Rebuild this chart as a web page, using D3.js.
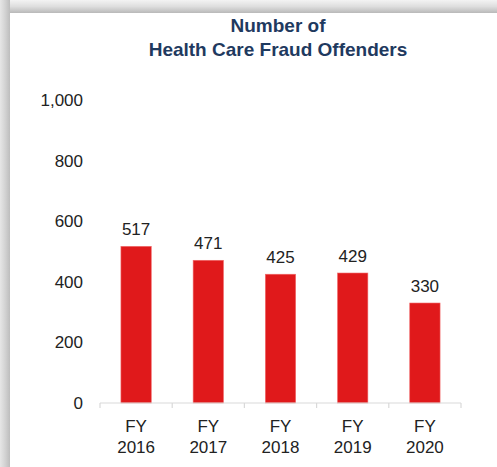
<!DOCTYPE html>
<html>
<head>
<meta charset="utf-8">
<script src="https://cdn.jsdelivr.net/npm/d3@7"></script>
<style>
  body { margin: 0; background: #fff; }
  svg text { font-family: "Century Gothic", "Liberation Sans", Arial, sans-serif; }
</style>
</head>
<body>
<div id="chart"></div>
<script>
// data
var years = ["2016", "2017", "2018", "2019", "2020"];
var offenders = [517, 471, 425, 429, 330];
var yTicks = [0, 200, 400, 600, 800, 1000];
var titleLines = ["Number of", "Health Care Fraud Offenders"];

var width = 497, height = 467;
var margin = {top: 100, right: 36, bottom: 64, left: 100};

var svg = d3.select("#chart").append("svg")
    .attr("width", width)
    .attr("height", height);

// soft frame shadow along top and left
var defs = svg.append("defs");
var gTop = defs.append("linearGradient").attr("id", "shTop")
    .attr("x1", 0).attr("y1", 0).attr("x2", 0).attr("y2", 1);
gTop.append("stop").attr("offset", "0%").attr("stop-color", "#f3f3f3");
gTop.append("stop").attr("offset", "50%").attr("stop-color", "#dedede");
gTop.append("stop").attr("offset", "100%").attr("stop-color", "#b9b9b9");
var gLeft = defs.append("linearGradient").attr("id", "shLeft")
    .attr("x1", 0).attr("y1", 0).attr("x2", 1).attr("y2", 0);
gLeft.append("stop").attr("offset", "0%").attr("stop-color", "#e6e6e6");
gLeft.append("stop").attr("offset", "50%").attr("stop-color", "#d3d3d3");
gLeft.append("stop").attr("offset", "100%").attr("stop-color", "#bdbdbd");

svg.append("rect").attr("x", 0).attr("y", 0)
    .attr("width", width).attr("height", 13)
    .attr("fill", "url(#shTop)");
svg.append("rect").attr("x", 0).attr("y", 0)
    .attr("width", 10).attr("height", height)
    .attr("fill", "url(#shLeft)");

// title
svg.append("text")
    .attr("x", 278)
    .attr("y", 32)
    .attr("text-anchor", "middle")
    .attr("fill", "#1f3a5f")
    .style("font-size", "19px")
    .style("font-weight", "bold")
    .selectAll("tspan")
    .data(titleLines)
    .enter().append("tspan")
    .attr("x", 278)
    .attr("dy", function(d, i) { return i ? 24 : 0; })
    .text(function(d) { return d; });

var x = d3.scaleBand()
    .domain(years)
    .range([margin.left, width - margin.right])
    .paddingInner(0.58)
    .paddingOuter(0.29);

var y = d3.scaleLinear()
    .domain([0, 1000])
    .range([height - margin.bottom, margin.top]);

// y labels (no axis line)
svg.append("g")
    .selectAll("text")
    .data(yTicks)
    .enter().append("text")
    .attr("x", 83)
    .attr("y", function(d) { return y(d); })
    .attr("dy", "0.35em")
    .attr("text-anchor", "end")
    .attr("fill", "#222")
    .style("font-size", "17px")
    .text(d3.format(","));

// bars
svg.append("g")
    .selectAll("rect")
    .data(offenders)
    .enter().append("rect")
    .attr("x", function(d, i) { return x(years[i]); })
    .attr("y", function(d) { return y(d); })
    .attr("width", x.bandwidth())
    .attr("height", function(d) { return y(0) - y(d); })
    .attr("fill", "#e0191b")
    .attr("stroke", "#f06a6a")
    .attr("stroke-width", 0.6);

// value labels
svg.append("g")
    .selectAll("text")
    .data(offenders)
    .enter().append("text")
    .attr("x", function(d, i) { return x(years[i]) + x.bandwidth() / 2; })
    .attr("y", function(d) { return y(d) - 11; })
    .attr("text-anchor", "middle")
    .attr("fill", "#222")
    .style("font-size", "17px")
    .text(function(d) { return d; });

// x axis: light line with ticks at category boundaries
var base = y(0);
var step = x.step();
var bounds = d3.range(years.length + 1).map(function(i) { return margin.left + i * step; });
var axis = svg.append("g");
axis.append("line")
    .attr("x1", bounds[0]).attr("x2", bounds[bounds.length - 1])
    .attr("y1", base).attr("y2", base)
    .attr("stroke", "#d9d9d9").attr("stroke-width", 1.2);
axis.selectAll(".tick")
    .data(bounds)
    .enter().append("line")
    .attr("class", "tick")
    .attr("x1", function(d) { return d; }).attr("x2", function(d) { return d; })
    .attr("y1", base).attr("y2", base + 5)
    .attr("stroke", "#d9d9d9").attr("stroke-width", 1.2);

var xl = axis.selectAll(".xl")
    .data(years)
    .enter().append("text")
    .attr("class", "xl")
    .attr("text-anchor", "middle")
    .attr("fill", "#222")
    .style("font-size", "17px");
xl.append("tspan")
    .attr("x", function(d) { return x(d) + x.bandwidth() / 2; })
    .attr("y", base + 29)
    .text("FY");
xl.append("tspan")
    .attr("x", function(d) { return x(d) + x.bandwidth() / 2; })
    .attr("y", base + 50)
    .text(function(d) { return d; });
</script>
</body>
</html>
